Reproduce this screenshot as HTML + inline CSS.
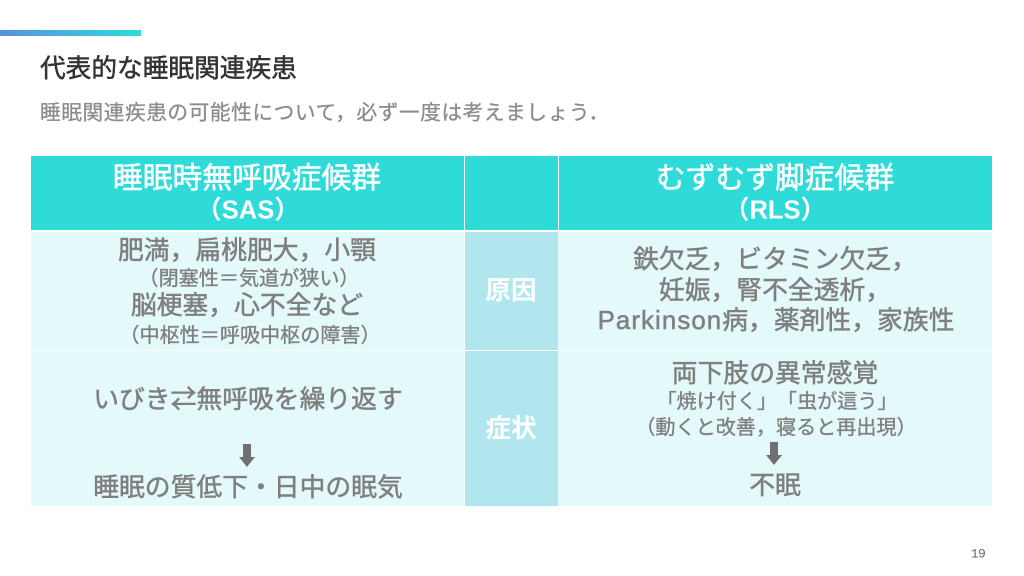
<!DOCTYPE html>
<html lang="ja"><head><meta charset="utf-8"><style>
html,body{margin:0;padding:0;background:#fff}
#s{position:relative;width:1024px;height:576px;overflow:hidden;background:#fff;font-family:"Liberation Sans","Noto Sans CJK JP",sans-serif;text-spacing-trim:space-all}
.b{position:absolute}
.t{position:absolute;white-space:nowrap;transform:translate(-50%,-50%);line-height:1;color:#7f7f7f;-webkit-text-stroke:.5px currentColor}
.l{transform:translate(0,-50%)}
.h{color:#fff;font-size:29.8px}
.h2{color:#fff;font-size:25.5px;font-weight:700;-webkit-text-stroke:0}
.m{font-size:25.8px}
.n{font-size:20.1px;-webkit-text-stroke:.35px currentColor}
.c{color:#fff;font-size:25.6px;font-weight:700;-webkit-text-stroke:0}
.p{font-family:"Noto Sans CJK JP",sans-serif}
</style></head><body><div id="s">
<div class="b" style="left:0;top:30px;width:141px;height:6px;background:linear-gradient(90deg,#5b8fe0,#2edbd9)"></div>
<div class="t l p" style="left:40px;top:67px;font-size:25.7px;color:#333;-webkit-text-stroke:.5px #333">代表的な睡眠関連疾患</div>
<div class="t l p" style="left:40px;top:111px;font-size:20.7px;letter-spacing:.55px;color:#8c8c8c;-webkit-text-stroke:.3px #8c8c8c">睡眠関連疾患の可能性について，必ず一度は考えましょう．</div>

<div class="b" style="left:31px;top:156px;width:433px;height:74px;background:#2edbd9"></div>
<div class="b" style="left:465px;top:156px;width:93px;height:74px;background:#2edbd9"></div>
<div class="b" style="left:559px;top:156px;width:433px;height:74px;background:#2edbd9"></div>
<div class="b" style="left:31px;top:232px;width:433px;height:118px;background:#e4f9f9"></div>
<div class="b" style="left:465px;top:232px;width:93px;height:118px;background:#b1e6ef"></div>
<div class="b" style="left:558px;top:232px;width:434px;height:118px;background:#e4f9f9"></div>
<div class="b" style="left:31px;top:351px;width:433px;height:155px;background:#e4f9f9"></div>
<div class="b" style="left:465px;top:351px;width:93px;height:155px;background:#b1e6ef"></div>
<div class="b" style="left:558px;top:351px;width:434px;height:155px;background:#e4f9f9"></div>

<div class="t h" style="left:247px;top:179px">睡眠時無呼吸症候群</div>
<div class="t h2" style="left:248px;top:211px">（SAS）</div>
<div class="t h" style="left:775px;top:179px">むずむず脚症候群</div>
<div class="t h2" style="left:775px;top:211px">（RLS）</div>

<div class="t m" style="left:247px;top:252px">肥満，扁桃肥大，小顎</div>
<div class="t n" style="left:249px;top:279px">（閉塞性＝気道が狭い）</div>
<div class="t m" style="left:247px;top:307px">脳梗塞，心不全など</div>
<div class="t n" style="left:250px;top:336px">（中枢性＝呼吸中枢の障害）</div>

<div class="t c" style="left:511px;top:292px">原因</div>
<div class="t c" style="left:511px;top:430px">症状</div>

<div class="t m" style="left:775px;top:261px">鉄欠乏，ビタミン欠乏，</div>
<div class="t m" style="left:775px;top:292px">妊娠，腎不全透析，</div>
<div class="t m" style="left:776px;top:322px"><span style="letter-spacing:1.1px">Parkinson</span>病，薬剤性，家族性</div>

<div class="t m" style="left:248px;top:401px">いびき⇄無呼吸を繰り返す</div>
<svg class="b" style="left:239px;top:444px" width="16" height="24"><path d="M4 0h8v13h4l-8 10-8-10h4z" fill="#707070"/></svg>
<div class="t m" style="left:248px;top:489px">睡眠の質低下・日中の眠気</div>

<div class="t m" style="left:775px;top:375px">両下肢の異常感覚</div>
<div class="t n" style="left:777px;top:402px">「焼け付く」「虫が這う」</div>
<div class="t n" style="left:776px;top:428px">（動くと改善，寝ると再出現）</div>
<svg class="b" style="left:766px;top:442px" width="16" height="24"><path d="M4 0h8v13h4l-8 10-8-10h4z" fill="#707070"/></svg>
<div class="t m" style="left:775px;top:487px">不眠</div>

<div class="t" style="left:978px;top:554px;font-size:13px;letter-spacing:-.6px;font-family:'Liberation Mono',monospace;color:#666;-webkit-text-stroke:0">19</div>
</div></body></html>
